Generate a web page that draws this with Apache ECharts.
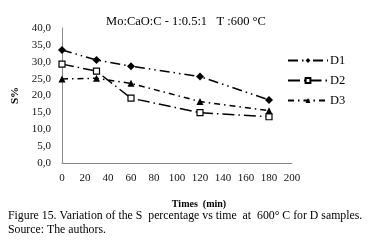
<!DOCTYPE html>
<html>
<head>
<meta charset="utf-8">
<script src="https://cdn.jsdelivr.net/npm/echarts@6/dist/echarts.min.js"></script>
<style>
  html, body { margin: 0; padding: 0; background: #fff; }
  #chart { width: 375px; height: 245px; }
</style>
</head>
<body>
<div id="chart"></div>
<script>
// data
var times = [0, 30, 60, 120, 180];
var d1 = [33.5, 30.5, 28.7, 25.6, 18.7];
var d2 = [29.3, 27.2, 19.2, 14.9, 13.7];
var d3 = [24.9, 25.1, 23.6, 18.2, 15.5];
var seriesNames = ['D1', 'D2', 'D3'];

var serif = 'Liberation Serif, DejaVu Serif, serif';

function pairs(vals) {
  return times.map(function (t, i) { return [t, vals[i]]; });
}

var chart = echarts.init(document.getElementById('chart'));

var option = {
  animation: false,
  backgroundColor: '#fff',
  title: {
    text: 'Mo:CaO:C - 1:0.5:1   T :600 °C',
    left: 181,
    top: 10,
    textAlign: 'center',
    textStyle: { fontFamily: serif, fontSize: 12.5, fontWeight: 'normal', color: '#000' }
  },
  grid: { left: 62, right: 83, top: 28, bottom: 82 },
  legend: {
    orient: 'vertical',
    left: 287,
    top: 54,
    padding: 0,
    itemWidth: 40,
    itemHeight: 6,
    itemGap: 7,
    textStyle: { fontFamily: serif, fontSize: 12.5, color: '#000', padding: [0, 0, 0, -3] },
    data: seriesNames
  },
  xAxis: {
    type: 'value',
    min: 0,
    max: 200,
    interval: 20,
    name: 'Times  (min)',
    nameLocation: 'middle',
    nameGap: 36,
    nameTextStyle: { fontFamily: serif, fontSize: 10, fontWeight: 'bold', color: '#000', padding: [0, 0, 0, 44] },
    axisLine: { lineStyle: { color: '#888', width: 1 } },
    axisTick: { show: false },
    splitLine: { show: false },
    axisLabel: { fontFamily: serif, fontSize: 11, color: '#111', margin: 10 }
  },
  yAxis: {
    type: 'value',
    min: 0,
    max: 40,
    interval: 5,
    name: 'S%',
    nameLocation: 'middle',
    nameGap: 34,
    nameTextStyle: { fontFamily: serif, fontSize: 11, fontWeight: 'bold', color: '#000' },
    axisLine: { show: true, lineStyle: { color: '#888', width: 1 } },
    axisTick: { show: false },
    splitLine: { show: false },
    axisLabel: {
      fontFamily: serif, fontSize: 11, color: '#111', margin: 11,
      formatter: function (v) { return v.toFixed(1).replace('.', ','); }
    }
  },
  series: [
    {
      name: 'D1',
      type: 'line',
      data: pairs(d1),
      symbol: 'diamond',
      symbolSize: 8,
      itemStyle: { color: '#000' },
      lineStyle: { color: '#000', width: 1.5, type: [10, 4, 1.5, 4, 1.5, 4] }
    },
    {
      name: 'D2',
      type: 'line',
      data: pairs(d2),
      symbol: 'rect',
      symbolSize: 6,
      itemStyle: { color: '#fff', borderColor: '#000', borderWidth: 1.2 },
      lineStyle: { color: '#000', width: 1.5, type: [12, 4, 1.5, 4] }
    },
    {
      name: 'D3',
      type: 'line',
      data: pairs(d3),
      symbol: 'triangle',
      symbolSize: 7,
      itemStyle: { color: '#000' },
      lineStyle: { color: '#000', width: 1.5, type: [6, 4, 1.5, 4] }
    }
  ],
  graphic: [
    {
      type: 'text',
      left: 8,
      top: 210,
      style: {
        text: 'Figure 15. Variation of the S  percentage vs time  at  600° C for D samples.',
        font: '11.8px ' + serif,
        fill: '#000'
      }
    },
    {
      type: 'text',
      left: 8,
      top: 224,
      style: {
        text: 'Source: The authors.',
        font: '11.8px ' + serif,
        fill: '#000'
      }
    }
  ]
};

chart.setOption(option);
</script>
</body>
</html>
